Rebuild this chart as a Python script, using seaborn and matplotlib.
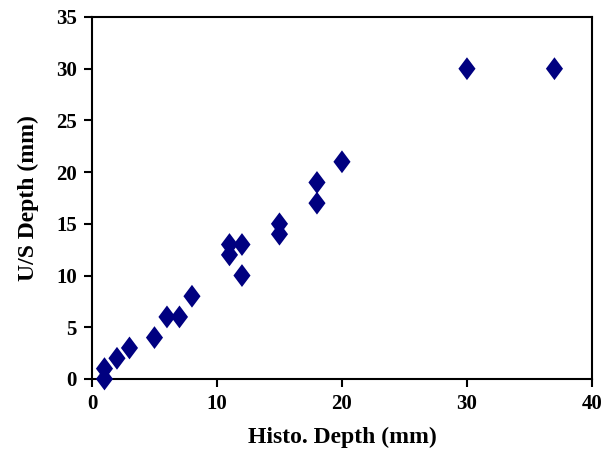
import matplotlib
matplotlib.use('Agg')
import matplotlib.pyplot as plt
import seaborn as sns
import pandas as pd

# data
histo_depth = [1, 1, 2, 3, 5, 6, 7, 8, 11, 11, 12, 12, 15, 15, 18, 18, 20, 30, 37]
us_depth = [0, 1, 2, 3, 4, 6, 6, 8, 12, 13, 13, 10, 14, 15, 17, 19, 21, 30, 30]
x_ticks = [0, 10, 20, 30, 40]
y_ticks = [0, 5, 10, 15, 20, 25, 30, 35]

df = pd.DataFrame({'histo': histo_depth, 'us': us_depth})

sns.set_style('ticks')
plt.rcParams['font.family'] = ['Liberation Serif', 'DejaVu Serif']
plt.rcParams['font.weight'] = 'bold'
plt.rcParams['text.color'] = 'black'

fig = plt.figure(figsize=(6.14, 4.53), dpi=100)
ax = fig.add_axes([0.1498, 0.1634, 0.8143, 0.7991])

# Excel style diamond, a bit taller than wide
diamond = [(0, 1), (0.75, 0), (0, -1), (-0.75, 0), (0, 1)]
sns.scatterplot(data=df, x='histo', y='us', ax=ax, marker=diamond, s=270,
                color='#000080', edgecolor='none', linewidth=0, zorder=3,
                clip_on=False)

ax.set_xlim(0, 40)
ax.set_ylim(0, 35)
ax.set_xticks(x_ticks)
ax.set_yticks(y_ticks)
ax.set_xlabel('Histo. Depth (mm)', fontsize=17, fontweight='bold', labelpad=9,
              color='black')
ax.set_ylabel('U/S Depth (mm)', fontsize=17, fontweight='bold', labelpad=12,
              color='black')

for sp in ax.spines.values():
    sp.set_visible(True)
    sp.set_color('black')
    sp.set_linewidth(1.5)
ax.tick_params(axis='both', direction='out', length=6, width=1.5, colors='black',
               labelsize=15, pad=5)
for lab in ax.get_xticklabels() + ax.get_yticklabels():
    lab.set_fontweight('bold')

fig.savefig('out.png', dpi=100)
